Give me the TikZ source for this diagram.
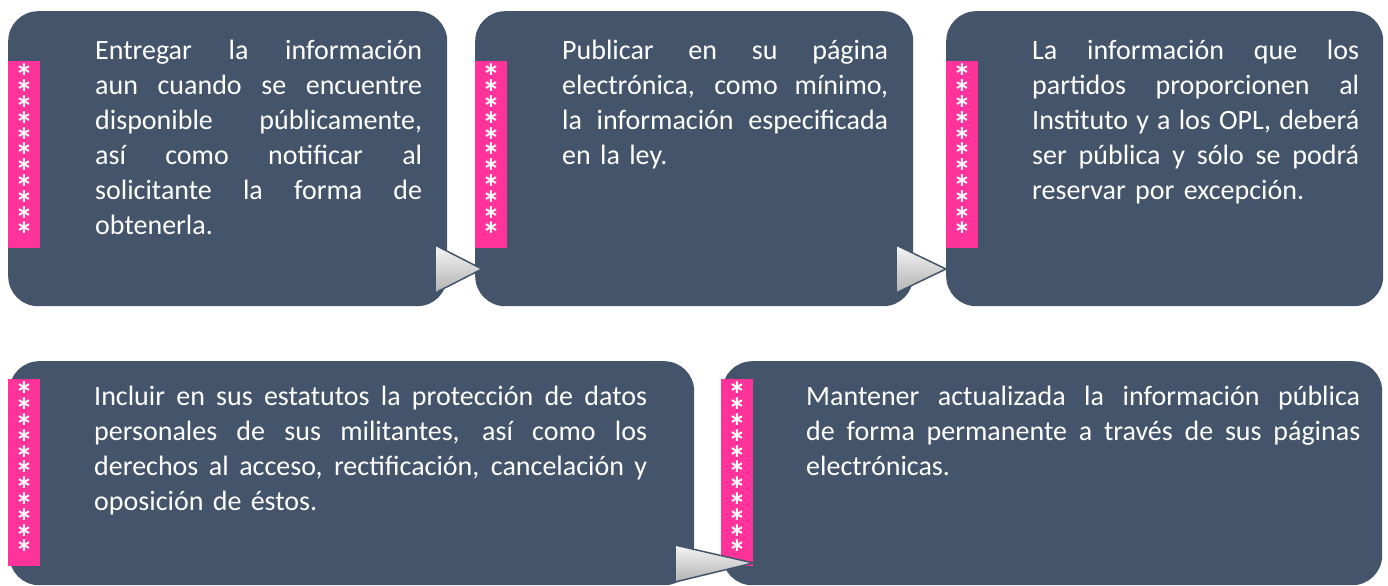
\documentclass[tikz,border=0pt]{standalone}
\usepackage{fontspec}
\setmainfont{Carlito}
\definecolor{slate}{HTML}{44546A}
\definecolor{pinkstrip}{HTML}{FF3399}
\newcommand\jl[1]{\par\noindent\hbox to\hsize{\spaceskip=0.23em plus 1fil minus 0.09em\relax #1}\par}
\newcommand\lastline[1]{\par\noindent #1\par}
\newcommand\starcolumn{\vbox{\baselineskip=15.8bp\lineskiplimit=-100bp\relax
  \hbox{*}\hbox{*}\hbox{*}\hbox{*}\hbox{*}\hbox{*}\hbox{*}\hbox{*}\hbox{*}\hbox{*}\hbox{*}}}
\tikzset{
  box/.style={fill=slate, draw=none, rounded corners=30bp, inner sep=0pt, anchor=north west},
  stripbox/.style={fill=pinkstrip, draw=none, inner sep=0pt, anchor=north west, minimum width=32bp, minimum height=187bp},
  txt/.style={text=white, inner sep=0pt, anchor=north west, font=\fontsize{28bp}{35bp}\selectfont},
  starcol/.style={text=white, inner sep=0pt, anchor=north, font=\bfseries\fontsize{36bp}{36bp}\selectfont},
  chev/.style={draw=slate, line width=1.5bp, top color=gray!8, bottom color=gray!60, line join=miter}
}
\begin{document}
\begin{tikzpicture}[x=1bp,y=-1bp]
\useasboundingbox (0,0) rectangle (1388,586);
\fill[white] (0,0) rectangle (1388,586);
% boxes
\node[box, minimum width=439bp, minimum height=295bp] (b1) at (8,11) {};
\node[box, minimum width=438bp, minimum height=295bp] (b2) at (475,11) {};
\node[box, minimum width=437bp, minimum height=295bp] (b3) at (946,11) {};
\node[box, minimum width=685bp, minimum height=224bp] (b4) at (9,361) {};
\node[box, minimum width=660bp, minimum height=224bp] (b5) at (722,361) {};
% pink strips
\node[stripbox] (s1) at (8,61) {};
\node[stripbox] (s2) at (475,61) {};
\node[stripbox] (s3) at (946,61) {};
\node[stripbox] (s4) at (8,379) {};
\node[stripbox] (s5) at (721,379) {};
% asterisks
\node[starcol] (a1) at (24,64) {\starcolumn};
\node[starcol] (a2) at (491,64) {\starcolumn};
\node[starcol] (a3) at (962,64) {\starcolumn};
\node[starcol] (a4) at (24,382) {\starcolumn};
\node[starcol] (a5) at (737,382) {\starcolumn};
% texts
\node[txt, text width=327bp] (t1) at (95,24.5) {%
\jl{\strut Entregar la información}%
\jl{aun cuando se encuentre}%
\jl{disponible públicamente,}%
\jl{así como notificar al}%
\jl{solicitante la forma de}%
\lastline{obtenerla.}};
\node[txt, text width=326bp] (t2) at (562,24.5) {%
\jl{\strut Publicar en su página}%
\jl{electrónica, como mínimo,}%
\jl{la información especificada}%
\lastline{en la ley.}};
\node[txt, text width=327bp] (t3) at (1032,24.5) {%
\jl{\strut La información que los}%
\jl{partidos proporcionen al}%
\jl{Instituto y a los OPL, deberá}%
\jl{ser pública y sólo se podrá}%
\lastline{reservar por excepción.}};
\node[txt, text width=553bp] (t4) at (94,370.5) {%
\jl{\strut Incluir en sus estatutos la protección de datos}%
\jl{personales de sus militantes, así como los}%
\jl{derechos al acceso, rectificación, cancelación y}%
\lastline{oposición de éstos.}};
\node[txt, text width=554bp] (t5) at (806,370.5) {%
\jl{\strut Mantener actualizada la información pública}%
\jl{de forma permanente a través de sus páginas}%
\lastline{electrónicas.}};
% chevrons between boxes
\path[chev] (435,245) -- (482,269) -- (435,293) -- cycle;
\path[chev] (896,245) -- (b3.west |- 0,269) -- (896,293) -- cycle;
\path[chev] (675,545) -- (s5.east |- 0,563) -- (675,582) -- cycle;
\end{tikzpicture}
\end{document}
